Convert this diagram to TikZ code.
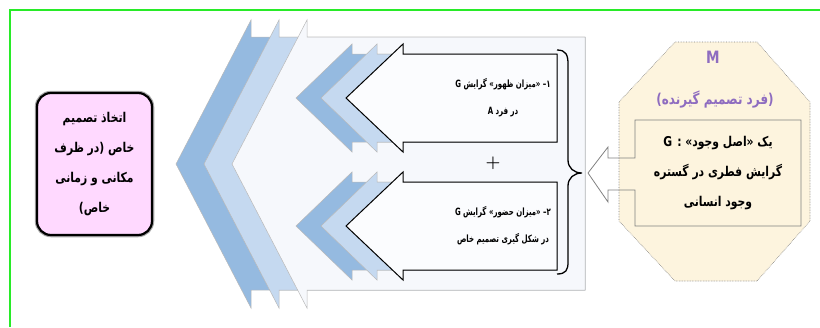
\documentclass[tikz,border=0pt]{standalone}
\usepackage{fontspec}
\usepackage{tikz}
\newfontfamily\fafont[Script=Arabic, FakeStretch=0.8]{DejaVu Sans}
\newfontfamily\fanarrow[Script=Arabic, FakeStretch=0.7]{DejaVu Sans}
\TeXXeTstate=1
\definecolor{bluedark}{RGB}{149,186,224}
\definecolor{bluemid}{RGB}{197,217,240}
\definecolor{bluelight}{RGB}{246,248,252}
\definecolor{frontfill}{RGB}{251,252,254}
\definecolor{pinkfill}{RGB}{255,217,255}
\definecolor{cream}{RGB}{253,244,222}
\definecolor{lilac}{RGB}{142,108,192}
\definecolor{framegreen}{RGB}{40,235,40}

\begin{document}
\begin{tikzpicture}[x=1pt, y=-1pt,
  layer/.style={draw=gray!55, line width=.5pt},
  front/.style={draw=black, line width=1pt, fill=frontfill},
  fa/.style={font=\fanarrow\bfseries\fontsize{10}{27}\selectfont, align=center, inner sep=0pt},
  pinkbox/.style={draw=black, line width=2.2pt, fill=pinkfill, rounded corners=14pt,
    minimum width=115pt, minimum height=142pt,
    preaction={draw=gray!70, line width=4.5pt}},
  octa/.style={fill=cream, draw=gray, densely dotted, line width=.6pt}]
\useasboundingbox (0,0) rectangle (820,327);
\draw [framegreen, line width=1.3pt] (10,327) -- (10,10) -- (820,10);

% big arrow, three layers
\foreach \d/\c in {0/bluedark,28/bluemid,56/bluelight}
  \filldraw [layer, fill=\c] (176+\d,164) -- (251+\d,20) -- (251+\d,37) -- (585,37)
    -- (585,290) -- (251+\d,290) -- (251+\d,308) -- cycle;

% the two small arrows
\foreach \y in {98,226} {
  \foreach \d/\c in {0/bluedark,25/bluemid}
    \filldraw [layer, fill=\c] (296+\d,\y) -- (352+\d,\y-54) -- (352+\d,\y-44) -- (557,\y-44)
      -- (557,\y+44) -- (352+\d,\y+44) -- (352+\d,\y+54) -- cycle;
  \filldraw [front] (346,\y) -- (403,\y-54) -- (403,\y-44) -- (557,\y-44)
    -- (557,\y+44) -- (403,\y+44) -- (403,\y+54) -- cycle;
}
\node [fa] (first) at (503,98) {\beginR ۱– «میزان ظهور» گرایش G\endR\\\beginR در فرد A\endR};
\node [fa] (second) at (503,226) {\beginR ۲– «میزان حضور» گرایش G\endR\\\beginR در شکل گیری تصمیم خاص\endR};
\node [font=\bfseries\fontsize{17}{17}\selectfont] (plus) at (493,163) {+};

% brace
\draw [line width=1.3pt] (557,50) .. controls (566,50) and (568,55) .. (568,64) -- (568,160)
  .. controls (568,168) and (574,173) .. (582,173) .. controls (574,173) and (568,178) .. (568,186)
  -- (568,262) .. controls (568,270) and (566,274) .. (557,274);

% decision box
\node [pinkbox, fa, font=\fafont\bfseries\fontsize{13.5}{30}\selectfont] (decision) at (94.5,164)
  {\beginR اتخاذ تصمیم\endR\\\beginR خاص (در ظرف\endR\\\beginR مکانی و زمانی\endR\\\beginR خاص)\endR};

% decision maker
\draw [octa] (675,42) -- (757,42) -- (810,102) -- (810,221) -- (757,281) -- (675,281)
  -- (619,221) -- (619,102) -- cycle;
\node [fa, text=lilac, font=\fafont\bfseries\fontsize{17}{17}\selectfont] (maker) at (713,57) {M};
\node [fa, text=lilac, font=\fafont\bfseries\fontsize{15}{15}\selectfont] (makerrole) at (715,100)
  {\beginR(فرد تصمیم گیرنده)\endR};
\draw [gray, line width=.8pt] (588,173) -- (608,147) -- (608,158) -- (635,158) -- (635,120)
  -- (801,120) -- (801,226) -- (635,226) -- (635,190) -- (608,190) -- (608,202) -- cycle;
\node [fa, font=\fafont\bfseries\fontsize{13.5}{30}\selectfont] (given) at (718,173)
  {\beginR یک «اصل وجود» : G\endR\\\beginR گرایش فطری در گستره\endR\\\beginR وجود انسانی\endR};
\end{tikzpicture}
\end{document}
